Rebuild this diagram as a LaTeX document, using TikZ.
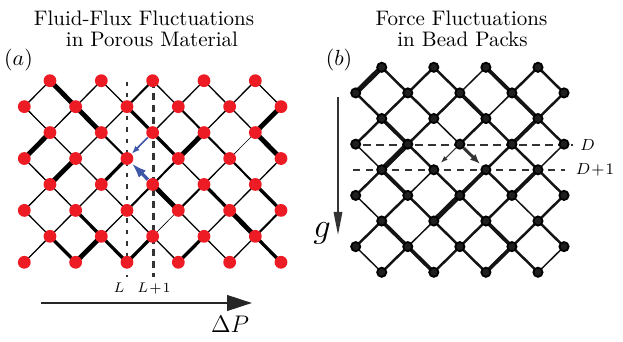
\documentclass[tikz,border=0pt]{standalone}
\usepackage{amsmath,amssymb}
\usepackage{tikz}
\usetikzlibrary{arrows.meta,backgrounds}
\definecolor{nodered}{RGB}{237,28,36}
\definecolor{arrblue}{RGB}{62,86,168}
\tikzset{
  rdot/.style={circle,fill=nodered,inner sep=0pt,minimum size=6.4pt},
  bdot/.style={circle,fill=black!88,draw=black,line width=0.9pt,inner sep=0pt,minimum size=4.6pt},
  w0/.style={line width=0.3pt},
  w1/.style={line width=0.65pt},
  w2/.style={line width=1.05pt},
  w3/.style={line width=1.65pt},
  w4/.style={line width=2.4pt},
  ttl/.style={inner sep=0pt,anchor=base,font=\fontsize{10.5}{12}\selectfont},
  plbl/.style={inner sep=0pt,anchor=base,font=\fontsize{11.2}{13}\selectfont},
  slbl/.style={inner sep=0pt,anchor=base,font=\fontsize{7.5}{9}\selectfont},
  dlbl/.style={inner sep=0pt,anchor=base,font=\fontsize{8.5}{10}\selectfont},
}
\begin{document}
\begin{tikzpicture}[x=0.5pt,y=-0.5pt]
      \useasboundingbox (0,0) rectangle (623,342);
      \node[ttl] (ta1) at (144,26) {Fluid-Flux Fluctuations};
      \node[ttl] (ta2) at (152,46.5) {in Porous Material};
      \node[ttl] (tb1) at (461.5,26) {Force Fluctuations};
      \node[ttl] (tb2) at (462.5,46.5) {in Bead Packs};
      \node[plbl] (pa) at (18.5,66) {$(a)$};
      \node[plbl] (pb) at (339,66) {$(b)$};
      \foreach \r in {0,...,7}{
        \foreach \c in {0,...,10}{
          \pgfmathtruncatemacro{\s}{\c+\r}
          \ifodd\s \node[rdot] (a\c-\r) at ({24.3+25.67*\c},{80.7+25.94*\r}) {}; \fi
        }
      }
      \foreach \r in {0,...,8}{
        \foreach \c in {0,...,8}{
          \pgfmathtruncatemacro{\s}{\c+\r}
          \ifodd\s \node[bdot] (b\c-\r) at ({355.7+26.04*\c},{67.3+25.62*\r}) {}; \fi
        }
      }
      \begin{scope}[on background layer]
        \foreach \c/\r/\cc/\w in {1/0/0/1, 1/0/2/4, 3/0/2/1, 3/0/4/1, 5/0/4/2, 5/0/6/1, 7/0/6/1, 7/0/8/1, 9/0/8/1, 9/0/10/1,
            0/1/1/1, 2/1/1/1, 2/1/3/4, 4/1/3/1, 4/1/5/3, 6/1/5/1, 6/1/7/2, 8/1/7/1, 8/1/9/1, 10/1/9/4,
            1/2/0/4, 1/2/2/1, 3/2/2/1, 3/2/4/2, 5/2/6/3, 7/2/6/4, 7/2/8/2, 9/2/8/0, 9/2/10/4,
            0/3/1/1, 2/3/1/4, 2/3/3/1, 4/3/3/3, 6/3/5/2, 6/3/7/1, 8/3/7/1, 8/3/9/2, 10/3/9/1,
            1/4/0/1, 1/4/2/1, 3/4/2/1, 3/4/4/1, 5/4/4/2, 5/4/6/4, 7/4/6/2, 7/4/8/3, 9/4/8/1, 9/4/10/3,
            0/5/1/1, 2/5/1/1, 2/5/3/3, 4/5/3/1, 4/5/5/1, 6/5/5/0, 6/5/7/1, 8/5/7/1, 8/5/9/4, 10/5/9/2,
            1/6/0/1, 1/6/2/3, 3/6/2/4, 3/6/4/3, 5/6/4/3, 5/6/6/1, 7/6/6/3, 7/6/8/1, 9/6/8/1, 9/6/10/3}{
          \pgfmathtruncatemacro{\rr}{\r+1}
          \draw[w\w] (a\c-\r.center) -- (a\cc-\rr.center);
        }
        \begin{scope}[w1/.style={line width=0.75pt},w2/.style={line width=1.25pt},w3/.style={line width=1.9pt},w4/.style={line width=2.6pt}]
        \foreach \c/\r/\cc/\w in {1/0/0/4, 1/0/2/2, 3/0/2/2, 3/0/4/2, 5/0/4/1, 5/0/6/3, 7/0/6/2, 7/0/8/2,
            0/1/1/2, 2/1/1/2, 2/1/3/2, 4/1/3/2, 4/1/5/3, 6/1/5/1, 6/1/7/3, 8/1/7/2,
            1/2/0/2, 1/2/2/3, 3/2/2/2, 3/2/4/1, 5/2/4/2, 5/2/6/2, 7/2/6/3, 7/2/8/2,
            0/3/1/1, 2/3/1/4, 2/3/3/2, 6/3/5/2, 6/3/7/2, 8/3/7/1,
            1/4/0/2, 1/4/2/3, 3/4/2/1, 3/4/4/2, 5/4/4/3, 5/4/6/2, 7/4/6/3, 7/4/8/2,
            0/5/1/1, 2/5/1/2, 2/5/3/2, 4/5/3/4, 4/5/5/2, 6/5/5/2, 6/5/7/1, 8/5/7/2,
            1/6/0/2, 1/6/2/3, 3/6/2/1, 3/6/4/2, 5/6/4/2, 5/6/6/3, 7/6/6/2, 7/6/8/2,
            0/7/1/1, 2/7/1/2, 2/7/3/3, 4/7/3/2, 4/7/5/2, 6/7/5/3, 6/7/7/2, 8/7/7/1}{
          \pgfmathtruncatemacro{\rr}{\r+1}
          \draw[w\w,black!92] (b\c-\r.center) -- (b\cc-\rr.center);
        }
        \end{scope}
        \draw[black!80,line width=1pt,dash pattern=on 2.2pt off 3.5pt] (126.7,81.7) -- (126.7,276.7);
        \draw[black!80,line width=1.3pt,dash pattern=on 3.5pt off 2.5pt] (153.3,80.7) -- (153.3,276.7);
        \draw[black!80,line width=0.9pt,dash pattern=on 4pt off 2.5pt] (363,145) -- (573,145);
        \draw[black!80,line width=0.75pt,dash pattern=on 3.5pt off 3pt] (353,170) -- (565,170);
      \end{scope}
      \draw[arrblue,line width=0.8pt,-{Latex[length=4pt,width=3pt]}] (a5-2) -- (a4-3);
      \draw[arrblue,line width=1.6pt,-{Latex[length=7.5pt,width=5pt]}] (a5-4) -- (a4-3);
      \draw[black!80,line width=0.5pt,-{Latex[length=3.5pt,width=2.5pt]},shorten >=2.2pt] (b4-3) -- (b3-4);
      \draw[black!80,line width=1.5pt,-{Latex[length=5pt,width=4pt]},shorten >=1.4pt] (b4-3) -- (b5-4);
      \node[slbl] (lL) at (119,293) {$L$};
      \node[slbl] (lL1) at (154,293) {$L\mkern1mu{+}\mkern1mu1$};
      \node[dlbl] (lD) at (587.5,150.7) {$D$};
      \node[dlbl] (lD1) at (595,175) {$D\mkern1mu{+}\mkern1mu1$};
      \draw[black!85,line width=1.15pt,-{Triangle[length=12.5pt,width=7.8pt]}] (41,303) -- (252,303);
      \node[inner sep=0pt,anchor=base,font=\fontsize{12.2}{14}\selectfont] (lP) at (230,332.7) {$\Delta P$};
      \draw[black!80,line width=1pt,-{Triangle[length=11.5pt,width=4.2pt]}] (338,97) -- (338,235);
      \node[inner sep=0pt,anchor=base,font=\fontsize{17}{20}\selectfont] (lg) at (322,238) {$g$};
\end{tikzpicture}
\end{document}
